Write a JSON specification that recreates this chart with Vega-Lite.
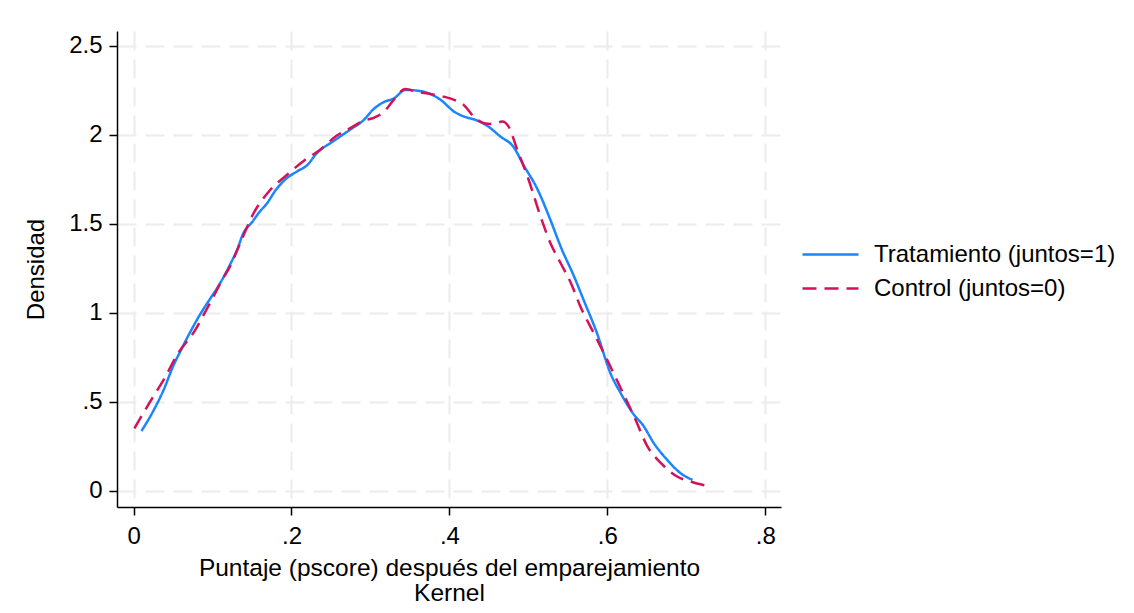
{
  "$schema": "https://vega.github.io/schema/vega-lite/v6.json",
  "width": 664,
  "height": 476,
  "autosize": {"type": "none"},
  "padding": {"left": 117, "top": 31, "right": 353, "bottom": 106},
  "background": "white",
  "config": {"view": {"stroke": null}, "font": "Liberation Sans"},
  "datasets": {
    "kd": [
      {"grupo": "Tratamiento (juntos=1)", "pscore": 0.010, "densidad": 0.337},
      {"grupo": "Tratamiento (juntos=1)", "pscore": 0.025, "densidad": 0.45},
      {"grupo": "Tratamiento (juntos=1)", "pscore": 0.038, "densidad": 0.567},
      {"grupo": "Tratamiento (juntos=1)", "pscore": 0.050, "densidad": 0.70},
      {"grupo": "Tratamiento (juntos=1)", "pscore": 0.061, "densidad": 0.80},
      {"grupo": "Tratamiento (juntos=1)", "pscore": 0.072, "densidad": 0.895},
      {"grupo": "Tratamiento (juntos=1)", "pscore": 0.084, "densidad": 0.99},
      {"grupo": "Tratamiento (juntos=1)", "pscore": 0.097, "densidad": 1.08},
      {"grupo": "Tratamiento (juntos=1)", "pscore": 0.110, "densidad": 1.17},
      {"grupo": "Tratamiento (juntos=1)", "pscore": 0.122, "densidad": 1.27},
      {"grupo": "Tratamiento (juntos=1)", "pscore": 0.131, "densidad": 1.354},
      {"grupo": "Tratamiento (juntos=1)", "pscore": 0.139, "densidad": 1.448},
      {"grupo": "Tratamiento (juntos=1)", "pscore": 0.150, "densidad": 1.51},
      {"grupo": "Tratamiento (juntos=1)", "pscore": 0.160, "densidad": 1.57},
      {"grupo": "Tratamiento (juntos=1)", "pscore": 0.169, "densidad": 1.616},
      {"grupo": "Tratamiento (juntos=1)", "pscore": 0.180, "densidad": 1.69},
      {"grupo": "Tratamiento (juntos=1)", "pscore": 0.194, "densidad": 1.757},
      {"grupo": "Tratamiento (juntos=1)", "pscore": 0.207, "densidad": 1.795},
      {"grupo": "Tratamiento (juntos=1)", "pscore": 0.220, "densidad": 1.831},
      {"grupo": "Tratamiento (juntos=1)", "pscore": 0.232, "densidad": 1.897},
      {"grupo": "Tratamiento (juntos=1)", "pscore": 0.253, "densidad": 1.965},
      {"grupo": "Tratamiento (juntos=1)", "pscore": 0.275, "densidad": 2.032},
      {"grupo": "Tratamiento (juntos=1)", "pscore": 0.291, "densidad": 2.082},
      {"grupo": "Tratamiento (juntos=1)", "pscore": 0.304, "densidad": 2.145},
      {"grupo": "Tratamiento (juntos=1)", "pscore": 0.317, "densidad": 2.185},
      {"grupo": "Tratamiento (juntos=1)", "pscore": 0.330, "densidad": 2.206},
      {"grupo": "Tratamiento (juntos=1)", "pscore": 0.344, "densidad": 2.253},
      {"grupo": "Tratamiento (juntos=1)", "pscore": 0.359, "densidad": 2.249},
      {"grupo": "Tratamiento (juntos=1)", "pscore": 0.376, "densidad": 2.230},
      {"grupo": "Tratamiento (juntos=1)", "pscore": 0.389, "densidad": 2.197},
      {"grupo": "Tratamiento (juntos=1)", "pscore": 0.406, "densidad": 2.131},
      {"grupo": "Tratamiento (juntos=1)", "pscore": 0.423, "densidad": 2.097},
      {"grupo": "Tratamiento (juntos=1)", "pscore": 0.431, "densidad": 2.088},
      {"grupo": "Tratamiento (juntos=1)", "pscore": 0.448, "densidad": 2.051},
      {"grupo": "Tratamiento (juntos=1)", "pscore": 0.465, "densidad": 1.990},
      {"grupo": "Tratamiento (juntos=1)", "pscore": 0.481, "densidad": 1.934},
      {"grupo": "Tratamiento (juntos=1)", "pscore": 0.494, "densidad": 1.830},
      {"grupo": "Tratamiento (juntos=1)", "pscore": 0.511, "densidad": 1.70},
      {"grupo": "Tratamiento (juntos=1)", "pscore": 0.528, "densidad": 1.522},
      {"grupo": "Tratamiento (juntos=1)", "pscore": 0.541, "densidad": 1.372},
      {"grupo": "Tratamiento (juntos=1)", "pscore": 0.558, "densidad": 1.204},
      {"grupo": "Tratamiento (juntos=1)", "pscore": 0.570, "densidad": 1.073},
      {"grupo": "Tratamiento (juntos=1)", "pscore": 0.587, "densidad": 0.886},
      {"grupo": "Tratamiento (juntos=1)", "pscore": 0.604, "densidad": 0.661},
      {"grupo": "Tratamiento (juntos=1)", "pscore": 0.617, "densidad": 0.549},
      {"grupo": "Tratamiento (juntos=1)", "pscore": 0.634, "densidad": 0.427},
      {"grupo": "Tratamiento (juntos=1)", "pscore": 0.645, "densidad": 0.371},
      {"grupo": "Tratamiento (juntos=1)", "pscore": 0.659, "densidad": 0.268},
      {"grupo": "Tratamiento (juntos=1)", "pscore": 0.676, "densidad": 0.174},
      {"grupo": "Tratamiento (juntos=1)", "pscore": 0.693, "densidad": 0.099},
      {"grupo": "Tratamiento (juntos=1)", "pscore": 0.708, "densidad": 0.062},
      {"grupo": "Control (juntos=0)", "pscore": 0.001, "densidad": 0.352},
      {"grupo": "Control (juntos=0)", "pscore": 0.021, "densidad": 0.502},
      {"grupo": "Control (juntos=0)", "pscore": 0.038, "densidad": 0.624},
      {"grupo": "Control (juntos=0)", "pscore": 0.055, "densidad": 0.764},
      {"grupo": "Control (juntos=0)", "pscore": 0.078, "densidad": 0.904},
      {"grupo": "Control (juntos=0)", "pscore": 0.090, "densidad": 1.0},
      {"grupo": "Control (juntos=0)", "pscore": 0.101, "densidad": 1.09},
      {"grupo": "Control (juntos=0)", "pscore": 0.112, "densidad": 1.185},
      {"grupo": "Control (juntos=0)", "pscore": 0.122, "densidad": 1.26},
      {"grupo": "Control (juntos=0)", "pscore": 0.135, "densidad": 1.392},
      {"grupo": "Control (juntos=0)", "pscore": 0.152, "densidad": 1.56},
      {"grupo": "Control (juntos=0)", "pscore": 0.173, "densidad": 1.691},
      {"grupo": "Control (juntos=0)", "pscore": 0.194, "densidad": 1.775},
      {"grupo": "Control (juntos=0)", "pscore": 0.217, "densidad": 1.86},
      {"grupo": "Control (juntos=0)", "pscore": 0.236, "densidad": 1.916},
      {"grupo": "Control (juntos=0)", "pscore": 0.257, "densidad": 1.995},
      {"grupo": "Control (juntos=0)", "pscore": 0.275, "densidad": 2.04},
      {"grupo": "Control (juntos=0)", "pscore": 0.291, "densidad": 2.08},
      {"grupo": "Control (juntos=0)", "pscore": 0.305, "densidad": 2.098},
      {"grupo": "Control (juntos=0)", "pscore": 0.317, "densidad": 2.13},
      {"grupo": "Control (juntos=0)", "pscore": 0.330, "densidad": 2.20},
      {"grupo": "Control (juntos=0)", "pscore": 0.344, "densidad": 2.258},
      {"grupo": "Control (juntos=0)", "pscore": 0.359, "densidad": 2.243},
      {"grupo": "Control (juntos=0)", "pscore": 0.376, "densidad": 2.230},
      {"grupo": "Control (juntos=0)", "pscore": 0.393, "densidad": 2.215},
      {"grupo": "Control (juntos=0)", "pscore": 0.406, "densidad": 2.197},
      {"grupo": "Control (juntos=0)", "pscore": 0.418, "densidad": 2.169},
      {"grupo": "Control (juntos=0)", "pscore": 0.431, "densidad": 2.103},
      {"grupo": "Control (juntos=0)", "pscore": 0.444, "densidad": 2.066},
      {"grupo": "Control (juntos=0)", "pscore": 0.456, "densidad": 2.062},
      {"grupo": "Control (juntos=0)", "pscore": 0.467, "densidad": 2.075},
      {"grupo": "Control (juntos=0)", "pscore": 0.475, "densidad": 2.047},
      {"grupo": "Control (juntos=0)", "pscore": 0.486, "densidad": 1.916},
      {"grupo": "Control (juntos=0)", "pscore": 0.499, "densidad": 1.766},
      {"grupo": "Control (juntos=0)", "pscore": 0.5155, "densidad": 1.541},
      {"grupo": "Control (juntos=0)", "pscore": 0.528, "densidad": 1.392},
      {"grupo": "Control (juntos=0)", "pscore": 0.541, "densidad": 1.279},
      {"grupo": "Control (juntos=0)", "pscore": 0.554, "densidad": 1.167},
      {"grupo": "Control (juntos=0)", "pscore": 0.566, "densidad": 1.035},
      {"grupo": "Control (juntos=0)", "pscore": 0.583, "densidad": 0.886},
      {"grupo": "Control (juntos=0)", "pscore": 0.600, "densidad": 0.735},
      {"grupo": "Control (juntos=0)", "pscore": 0.617, "densidad": 0.577},
      {"grupo": "Control (juntos=0)", "pscore": 0.634, "densidad": 0.418},
      {"grupo": "Control (juntos=0)", "pscore": 0.651, "densidad": 0.249},
      {"grupo": "Control (juntos=0)", "pscore": 0.668, "densidad": 0.156},
      {"grupo": "Control (juntos=0)", "pscore": 0.689, "densidad": 0.080},
      {"grupo": "Control (juntos=0)", "pscore": 0.706, "densidad": 0.052},
      {"grupo": "Control (juntos=0)", "pscore": 0.725, "densidad": 0.030}
    ]
  },
  "data": {"name": "kd"},
  "mark": {"type": "line", "strokeWidth": 2.5, "interpolate": "monotone"},
  "encoding": {
    "x": {
      "field": "pscore",
      "type": "quantitative",
      "scale": {"domain": [-0.021, 0.82], "nice": false, "zero": false},
      "axis": {
        "values": [0, 0.2, 0.4, 0.6, 0.8],
        "format": ".1~f",
        "labelExpr": "replace(datum.label, '0.', '.')",
        "grid": true,
        "gridDash": [19, 9],
        "gridColor": "#ececec",
        "gridWidth": 2,
        "domainColor": "#000000",
        "domainWidth": 1.5,
        "tickColor": "#000000",
        "tickWidth": 1.5,
        "tickSize": 8,
        "labelFontSize": 24,
        "labelColor": "#000000",
        "labelPadding": 9,
        "labelFlush": false,
        "labelOverlap": false,
        "title": ["Puntaje (pscore) después del emparejamiento", "Kernel"],
        "titleFontSize": 24.5,
        "titleFontWeight": "normal",
        "titleColor": "#000000",
        "titlePadding": 8,
        "titleLineHeight": 25
      }
    },
    "y": {
      "field": "densidad",
      "type": "quantitative",
      "scale": {"domain": [-0.09, 2.584], "nice": false, "zero": false},
      "axis": {
        "values": [0, 0.5, 1, 1.5, 2, 2.5],
        "format": ".1~f",
        "labelExpr": "replace(datum.label, '0.', '.')",
        "grid": true,
        "gridDash": [19, 9],
        "gridColor": "#ececec",
        "gridWidth": 2,
        "domainColor": "#000000",
        "domainWidth": 1.5,
        "tickColor": "#000000",
        "tickWidth": 1.5,
        "tickSize": 8,
        "labelFontSize": 24,
        "labelColor": "#000000",
        "labelPadding": 7,
        "labelFlush": false,
        "labelOverlap": false,
        "title": "Densidad",
        "titleFontSize": 24,
        "titleFontWeight": "normal",
        "titleColor": "#000000",
        "titlePadding": 20
      }
    },
    "color": {
      "field": "grupo",
      "type": "nominal",
      "sort": ["Tratamiento (juntos=1)", "Control (juntos=0)"],
      "scale": {"domain": ["Tratamiento (juntos=1)", "Control (juntos=0)"], "range": ["#1a85ff", "#d41159"]},
      "legend": {
        "orient": "none",
        "legendX": 692,
        "legendY": 202,
        "title": null,
        "symbolType": "M-1.4,0H1.4",
        "symbolSize": 1600,
        "symbolStrokeWidth": 2.5,
        "labelFontSize": 24,
        "labelColor": "#000000",
        "labelOffset": 22,
        "labelLimit": 400,
        "rowPadding": 0
      }
    },
    "strokeDash": {
      "field": "grupo",
      "type": "nominal",
      "sort": ["Tratamiento (juntos=1)", "Control (juntos=0)"],
      "scale": {"domain": ["Tratamiento (juntos=1)", "Control (juntos=0)"], "range": [[1, 0], [14, 8]]},
      "legend": {
        "orient": "none",
        "legendX": 692,
        "legendY": 202,
        "title": null,
        "symbolType": "M-1.4,0H1.4",
        "symbolSize": 1600,
        "symbolStrokeWidth": 2.5,
        "labelFontSize": 24,
        "labelColor": "#000000",
        "labelOffset": 22,
        "labelLimit": 400,
        "rowPadding": 0
      }
    }
  }
}
